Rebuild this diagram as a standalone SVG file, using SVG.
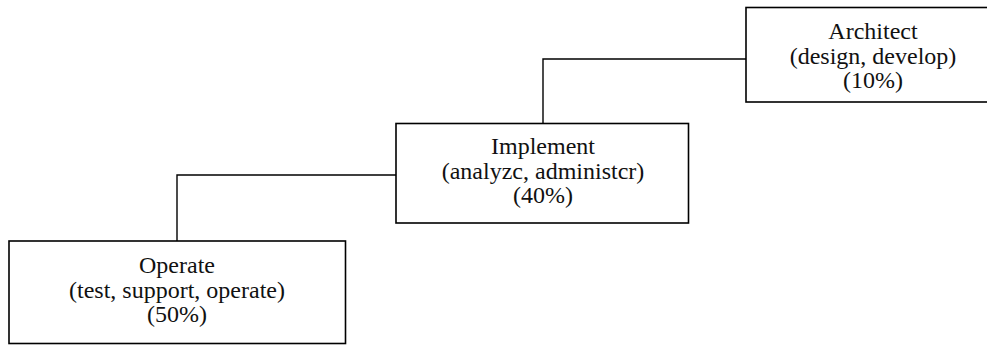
<svg xmlns="http://www.w3.org/2000/svg" width="987" height="345" viewBox="0 0 987 345">
  <style>
    .box { fill: #ffffff; stroke: #000000; stroke-width: 1.6; }
    .link { fill: none; stroke: #000000; stroke-width: 1.4; }
    .label { font-family: "Liberation Serif", "Times New Roman", serif; font-size: 24px; fill: #111111; text-anchor: middle; }
  </style>
  <rect width="987" height="345" fill="#ffffff"/>

  <g id="connectors">
    <polyline class="link" points="177,241 177,175 396,175"/>
    <polyline class="link" points="543,123 543,59 746,59"/>
  </g>

  <g id="operate">
    <rect class="box" x="9" y="241" width="336.5" height="102.5"/>
    <text class="label" x="177" y="273">Operate</text>
    <text class="label" x="177" y="298">(test, support, operate)</text>
    <text class="label" x="177" y="322">(50%)</text>
  </g>

  <g id="implement">
    <rect class="box" x="396" y="123.5" width="292.5" height="99.5"/>
    <text class="label" x="543" y="154">Implement</text>
    <text class="label" x="543" y="179">(analyzc, administcr)</text>
    <text class="label" x="543" y="203">(40%)</text>
  </g>

  <g id="architect">
    <rect class="box" x="746" y="7.5" width="254" height="94.5"/>
    <text class="label" x="873" y="39">Architect</text>
    <text class="label" x="873" y="64">(design, develop)</text>
    <text class="label" x="873" y="88">(10%)</text>
  </g>
</svg>
